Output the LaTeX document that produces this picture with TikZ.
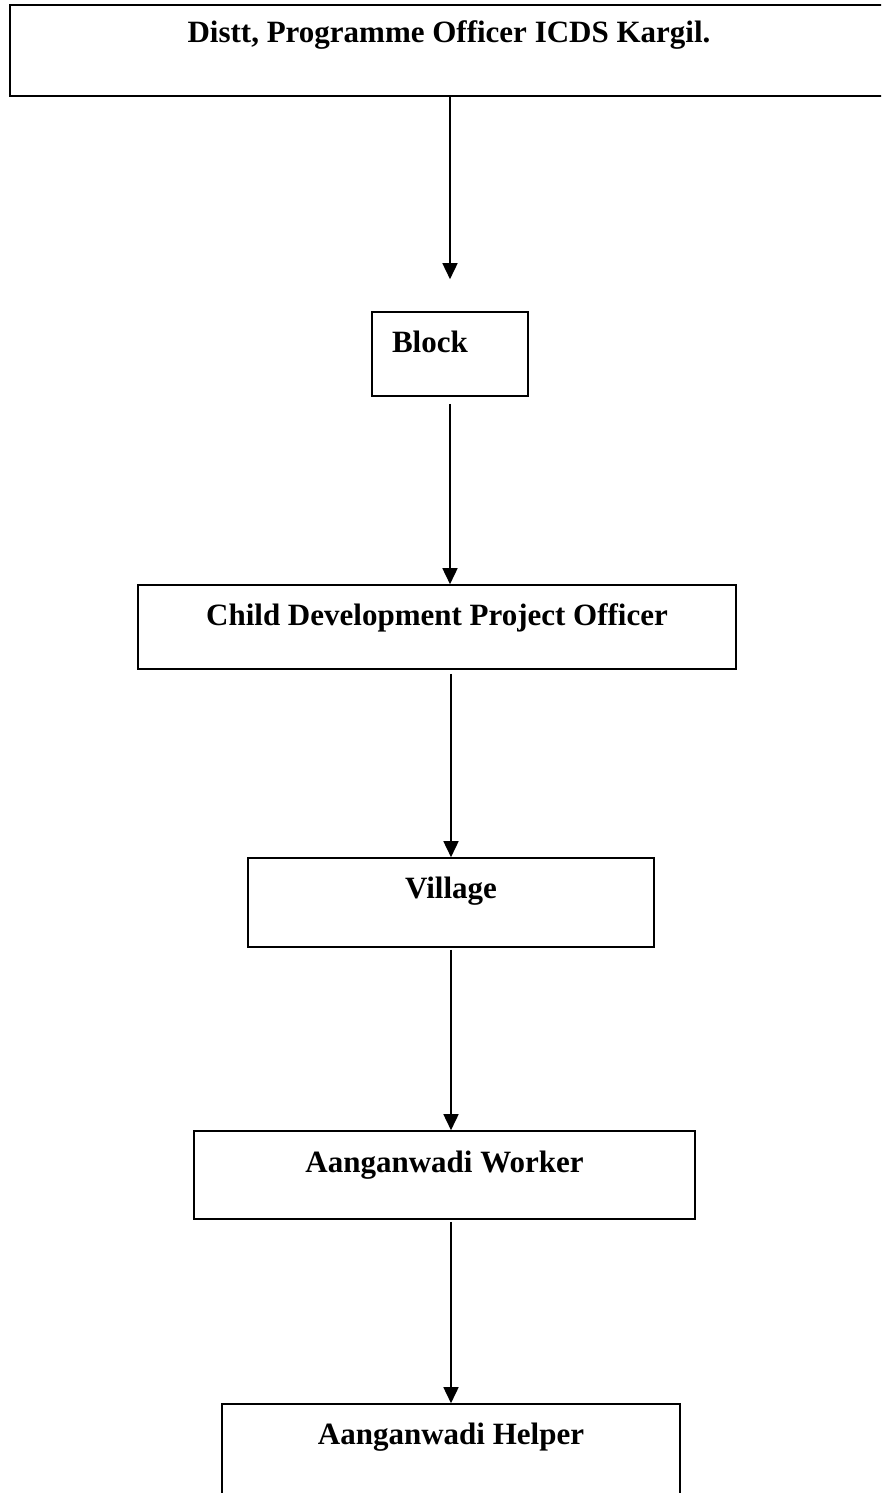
\documentclass[tikz,border=0pt]{standalone}
\usepackage{fontspec}
\setmainfont{Liberation Serif}
\usepackage{tikz}
\usetikzlibrary{arrows.meta,positioning}

\begin{document}
\begin{tikzpicture}[
    x=1pt, y=-1pt,
    box/.style={rectangle, draw, line width=1.6pt, inner sep=0pt, text height=40pt, font=\fontsize{31pt}{37pt}\selectfont\bfseries},
    edge/.style={-{Triangle[length=16pt,width=15pt]}, line width=1.6pt}
]
    \clip (0,0) rectangle (881,1493);
    \node[box, minimum width=878pt, text height=38pt, text depth=53pt] (dpo) at (449,50.5) {Distt, Programme Officer ICDS Kargil.};
    \node[box, text depth=44pt, text width=116pt, inner xsep=20pt, align=left] (block) at (450,354) {Block};
    \node[box, minimum width=598pt, text depth=44pt] (cdpo) at (437,627) {Child Development Project Officer};
    \node[box, minimum width=406pt, text depth=49pt] (village) at (451,902.5) {Village};
    \node[box, minimum width=501pt, text height=41pt, text depth=47pt] (worker) at (444.5,1175) {Aanganwadi Worker};
    \node[box, minimum width=458pt, text depth=66pt] (helper) at (451,1457) {Aanganwadi Helper};

    \draw[edge, shorten >=32pt] (dpo.south -| block) -- (block);
    \draw[edge] ([yshift=-7pt]block.south) -- (block.south |- cdpo.north);
    \draw[edge] ([yshift=-4pt]cdpo.south -| village) -- (village);
    \draw[edge] ([yshift=-2pt]village.south) -- (village.south |- worker.north);
    \draw[edge] ([yshift=-2pt]worker.south -| helper) -- (helper);
\end{tikzpicture}
\end{document}
